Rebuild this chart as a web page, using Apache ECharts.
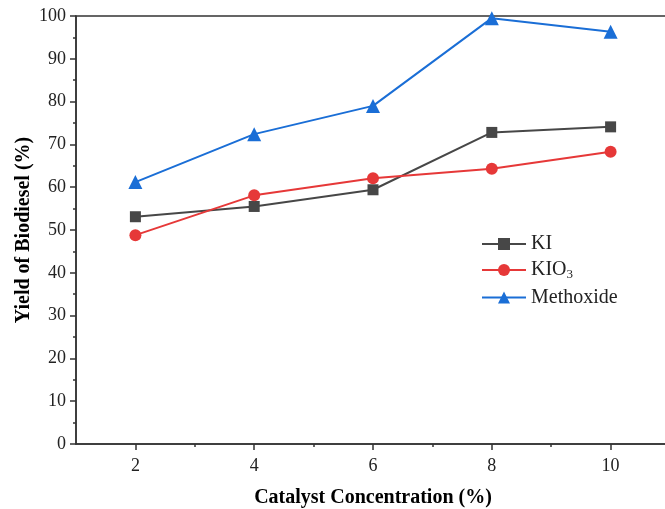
<!DOCTYPE html>
<html><head><meta charset="utf-8">
<script src="https://cdn.jsdelivr.net/npm/echarts@6/dist/echarts.min.js"></script>
<style>html,body{margin:0;padding:0;background:#fff}#c{width:665px;height:509px}</style>
</head><body><div id="c"></div>
<script>
const xValues = [2, 4, 6, 8, 10];
const kiValues = [53.1, 55.5, 59.4, 72.8, 74.1];
const kio3Values = [48.8, 58.1, 62.1, 64.3, 68.3];
const methoxideValues = [61.2, 72.4, 79.0, 99.5, 96.3];
const xTicks = [2, 4, 6, 8, 10];
const xMinorTicks = [3, 5, 7, 9];

const serif = 'Liberation Serif';
const pair = v => xValues.map((x, i) => [x, v[i]]);
const chart = echarts.init(document.getElementById('c'));
chart.setOption({
  backgroundColor: '#fff',
  animation: false,
  grid: { left: 76, top: 16, bottom: 65, width: 594, outerBoundsMode: 'none', containLabel: false, show: true, borderColor: '#333', borderWidth: 1.5, backgroundColor: 'transparent' },
  xAxis: [{
    type: 'value', min: 1, max: 11,
    name: 'Catalyst Concentration (%)', nameLocation: 'middle', nameGap: 44,
    nameTextStyle: { fontFamily: serif, fontWeight: 'bold', fontSize: 20, color: '#000' },
    axisLine: { lineStyle: { color: '#333', width: 1.5 } },
    axisTick: { customValues: xTicks, length: 6, lineStyle: { color: '#333', width: 1.5 } },
    axisLabel: { customValues: xTicks, fontFamily: serif, fontSize: 18, color: '#222', margin: 13 },
    splitLine: { show: false }
  }, {
    type: 'value', min: 1, max: 11, position: 'bottom', gridIndex: 0,
    axisLine: { show: false },
    axisTick: { customValues: xMinorTicks, length: 3, lineStyle: { color: '#333', width: 1.5 } },
    axisLabel: { show: false },
    splitLine: { show: false }
  }],
  yAxis: {
    type: 'value', min: 0, max: 100, interval: 10,
    name: 'Yield of Biodiesel (%)', nameLocation: 'middle', nameGap: 42, nameMoveOverlap: false,
    nameTextStyle: { fontFamily: serif, fontWeight: 'bold', fontSize: 20, color: '#000' },
    axisLine: { show: true, lineStyle: { color: '#333', width: 1.5 } },
    axisTick: { show: true, length: 6, lineStyle: { color: '#333', width: 1.5 } },
    minorTick: { show: true, splitNumber: 2, length: 3, lineStyle: { color: '#333', width: 1.5 } },
    axisLabel: { fontFamily: serif, fontSize: 18, color: '#222', margin: 10 },
    splitLine: { show: false }
  },
  legend: {
    left: 476, top: 229, orient: 'vertical', itemWidth: 44, itemHeight: 15, itemGap: 6,
    data: ['KI', 'KIO3', 'Methoxide'],
    formatter: n => n === 'KIO3' ? '{a|KIO}{s|3}' : '{a|' + n + '}',
    textStyle: {
      fontFamily: serif, fontSize: 20, color: '#222',
      rich: { a: { fontFamily: serif, fontSize: 20, color: '#222' }, s: { fontFamily: serif, fontSize: 13, color: '#222', padding: [10, 0, 0, 0] } }
    }
  },
  series: [
    { name: 'KI', type: 'line', data: pair(kiValues), symbol: 'rect', symbolSize: 11, color: '#474747', lineStyle: { width: 2 } },
    { name: 'KIO3', type: 'line', data: pair(kio3Values), symbol: 'circle', symbolSize: 12, color: '#e63838', lineStyle: { width: 2 } },
    { name: 'Methoxide', type: 'line', data: pair(methoxideValues), symbol: 'triangle', symbolSize: 14, color: '#1a6ed6', lineStyle: { width: 2 } }
  ]
});
</script></body></html>
